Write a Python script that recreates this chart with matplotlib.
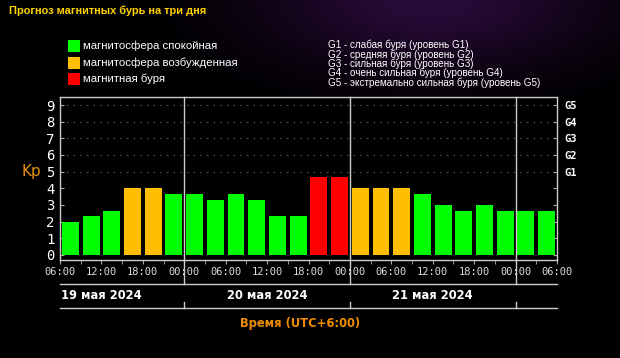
import numpy as np
import matplotlib
matplotlib.use("Agg")
import matplotlib.pyplot as plt
from matplotlib.patches import Rectangle

# -------------------------------
# Data (Kp index, 3-hour intervals from 19 May 06:00)
# -------------------------------
kp_vals = [2.0, 2.33, 2.67, 4.0, 4.0, 3.67,
           3.67, 3.33, 3.67, 3.33, 2.33, 2.33,
           4.67, 4.67, 4.0, 4.0, 4.0, 3.67,
           3.0, 2.67, 3.0, 2.67, 2.67, 2.67]
time_labels = ['06:00', '12:00', '18:00', '00:00', '06:00', '12:00', '18:00',
               '00:00', '06:00', '12:00', '18:00', '00:00', '06:00']
day_labels = ['19 мая 2024', '20 мая 2024', '21 мая 2024']
g_labels = ['G1', 'G2', 'G3', 'G4', 'G5']
legend_labels = ['магнитосфера спокойная', 'магнитосфера возбужденная', 'магнитная буря']
g_legend = ['G1 - слабая буря (уровень G1)',
            'G2 - средняя буря (уровень G2)',
            'G3 - сильная буря (уровень G3)',
            'G4 - очень сильная буря (уровень G4)',
            'G5 - экстремально сильная буря (уровень G5)']

GREEN = '#00ff00'
ORANGE = '#ffbf00'
RED = '#ff0000'
NARROW = ['Liberation Sans Narrow', 'Liberation Sans', 'DejaVu Sans']


def kp_color(v):
    if v >= 4.5:
        return RED
    if v >= 4.0:
        return ORANGE
    return GREEN


W, H = 620, 358
fig = plt.figure(figsize=(W / 100, H / 100), dpi=100, facecolor='black')

# faint purple glow in the background (top right)
bg = fig.add_axes([0, 0, 1, 1], zorder=-10)
yy, xx = np.mgrid[0:H, 0:W]
glow = np.exp(-(((xx - 430) / 170.0) ** 2 + ((yy - 0) / 70.0) ** 2))
img = np.zeros((H, W, 3))
img[..., 0] = 0.16 * glow
img[..., 1] = 0.04 * glow
img[..., 2] = 0.22 * glow
bg.imshow(img, aspect='auto', extent=(0, W, H, 0))
bg.axis('off')

ax = fig.add_axes([60 / W, 1 - 260 / H, 497 / W, 163 / H], facecolor='black')

hours = np.arange(len(kp_vals)) * 3 + 1.5
ax.bar(hours, kp_vals, width=2.45, color=[kp_color(v) for v in kp_vals], zorder=2)

ax.set_xlim(0, 72)
ax.set_ylim(-0.3, 9.48)

# dotted grid in the upper part
for lvl in range(5, 10):
    ax.axhline(lvl, color='#777777', lw=0.8, ls=(0, (1, 5)), zorder=1)

for s in ax.spines.values():
    s.set_color('#cccccc')
    s.set_linewidth(1)

# x ticks
ax.set_xticks(np.arange(0, 73, 6))
ax.set_xticklabels(time_labels, family='DejaVu Sans Mono', fontsize=7.5, color='#dddddd')
ax.set_xticks(np.arange(0, 73, 3), minor=True)
ax.tick_params(axis='x', which='both', direction='out', length=3, color='#aaaaaa', pad=2)

# y ticks (left)
ax.set_yticks(range(10))
ax.set_yticklabels([str(i) for i in range(10)], family='DejaVu Sans Mono', fontsize=10, color='white')
ax.tick_params(axis='y', direction='in', length=3, color='#aaaaaa', pad=4)

# right axis with G levels
ax2 = ax.twinx()
ax2.set_ylim(ax.get_ylim())
ax2.set_yticks(range(10))
ax2.set_yticklabels([''] * 5 + g_labels, family='DejaVu Sans Mono', fontsize=7.5,
                    fontweight='bold', color='white')
ax2.tick_params(axis='y', direction='in', length=3, color='#aaaaaa', pad=5)
for s in ax2.spines.values():
    s.set_visible(False)

ax.text(-4.2, 5.0, 'Kp', color='#e8900a', fontsize=11, ha='center', va='center')

# day separators and date row
tr = ax.get_xaxis_transform()
for d in [18, 42, 66]:
    ax.plot([d, d], [1.0, -0.149], transform=tr, color='#cccccc', lw=1, clip_on=False, zorder=3)
    ax.plot([d, d], [-0.256, -0.293], transform=tr, color='#cccccc', lw=1, clip_on=False)
ax.plot([0, 72], [-0.149, -0.149], transform=tr, color='#cccccc', lw=1, clip_on=False)
ax.plot([0, 72], [-0.293, -0.293], transform=tr, color='#cccccc', lw=1, clip_on=False)

ax.text(0.1, -0.219, day_labels[0], transform=tr, color='white', fontsize=8.3,
        fontweight='bold', ha='left', va='center')
ax.text(30, -0.219, day_labels[1], transform=tr, color='white', fontsize=8.3,
        fontweight='bold', ha='center', va='center')
ax.text(54, -0.219, day_labels[2], transform=tr, color='white', fontsize=8.3,
        fontweight='bold', ha='center', va='center')

fig.text(300.5 / W, 1 - 323 / H, 'Время (UTC+6:00)', color='#f08c00', fontsize=8.3,
         fontweight='bold', ha='center', va='center')

# title
fig.text(9 / W, 1 - 11 / H, 'Прогноз магнитных бурь на три дня', color='#ffd200',
         fontsize=7.9, fontweight='bold', family=NARROW, ha='left', va='center')

# legend (colours)
for i, (lab, col) in enumerate(zip(legend_labels, [GREEN, ORANGE, RED])):
    yc = 46 + i * 16.5
    fig.patches.append(Rectangle((68 / W, 1 - (yc + 6) / H), 11.5 / W, 12 / H,
                                 transform=fig.transFigure, facecolor=col, edgecolor='none'))
    fig.text(83 / W, 1 - yc / H, lab, color='white', fontsize=8.2, family=NARROW,
             ha='left', va='center')

# legend (G levels)
for i, lab in enumerate(g_legend):
    yc = 45 + i * 9.4
    fig.text(328 / W, 1 - yc / H, lab, color='white', fontsize=7.1, family=NARROW,
             ha='left', va='center')

fig.savefig('out.png', dpi=100, facecolor='black')
